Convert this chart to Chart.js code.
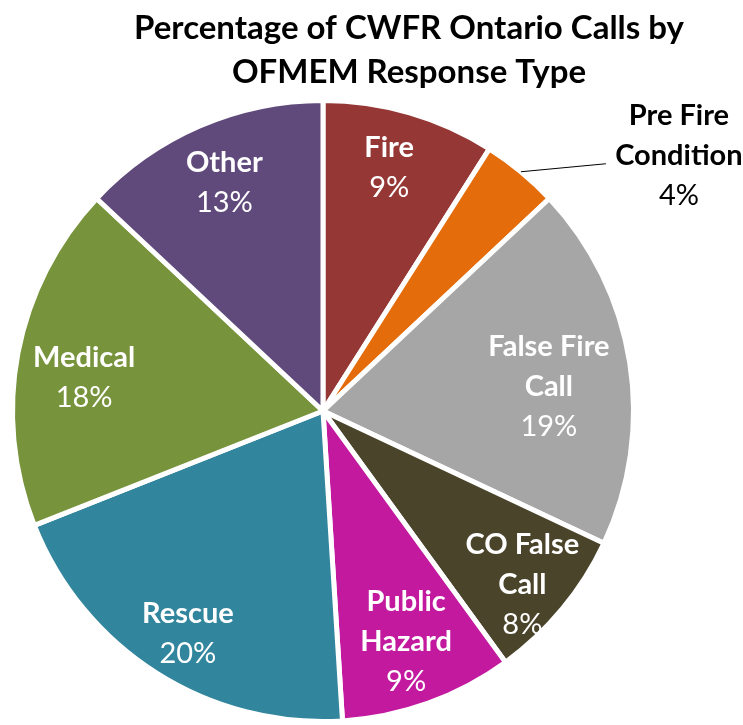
<!DOCTYPE html>
<html>
<head>
<meta charset="utf-8">
<script src="https://cdn.jsdelivr.net/npm/chart.js@4"></script>
<style>
  body { margin: 0; background: #fff; }
  #wrap { width: 743px; height: 725px; }
</style>
</head>
<body>
<div id="wrap"><canvas id="pie-chartcanvas" width="743" height="725"></canvas></div>
<script>
// response types and their share of calls (%)
var categories = ["Fire", "Pre Fire Condition", "False Fire Call", "CO False Call", "Public Hazard", "Rescue", "Medical", "Other"];
var shares = [9, 4, 19, 8, 9, 20, 18, 13];
// how each name is broken over lines on the chart
var labelLines = [["Fire"], ["Pre Fire", "Condition"], ["False Fire", "Call"], ["CO False", "Call"], ["Public", "Hazard"], ["Rescue"], ["Medical"], ["Other"]];
var sliceColors = ["#953735", "#E46C0A", "#A6A6A6", "#4A442A", "#C2199E", "#31859C", "#77933C", "#604A7B"];
var titleLines = ["Percentage of CWFR Ontario Calls by", "OFMEM Response Type"];

var FONT = "Lato, 'Open Sans', sans-serif";

// label block placement: share of the radius along the slice middle, plus a small nudge
var labelRadius = [0.81, 0, 0.73, 0.85, 0.79, 0.83, 0.78, 0.80];
var labelNudge = [[-4, -2], [0, 0], [2, 11], [-4, 5], [0, 0], [3, 5], [-1, 12], [0, 0]];

var titlePlugin = {
	id: "bigTitle",
	afterDraw: function (chart) {
		var ctx = chart.ctx;
		ctx.save();
		ctx.fillStyle = "#000";
		ctx.font = "bold 33px " + FONT;
		ctx.textAlign = "center";
		ctx.textBaseline = "middle";
		ctx.fillText(titleLines[0], 409, 28);
		ctx.fillText(titleLines[1], 409, 72);
		ctx.restore();
	}
};

var sliceLabels = {
	id: "sliceLabels",
	afterDatasetsDraw: function (chart) {
		var ctx = chart.ctx;
		var arcs = chart.getDatasetMeta(0).data;
		var lineGap = 40;
		ctx.save();
		ctx.textAlign = "center";
		ctx.textBaseline = "middle";
		arcs.forEach(function (arc, i) {
			var mid = (arc.startAngle + arc.endAngle) / 2;
			var R = arc.outerRadius;
			var lines = labelLines[i].concat([shares[i] + "%"]);
			var cx, cy, color;
			if (i === 1) {
				// small slice: label outside with a leader line
				var sx = arc.x + Math.cos(mid) * R;
				var sy = arc.y + Math.sin(mid) * R;
				var ex = sx + 85, ey = sy - 8;
				ctx.strokeStyle = "#000";
				ctx.lineWidth = 1;
				ctx.beginPath();
				ctx.moveTo(sx, sy);
				ctx.lineTo(ex, ey);
				ctx.stroke();
				cx = ex + 73;
				cy = ey - 8;
				color = "#000";
			} else {
				var r = R * labelRadius[i];
				cx = arc.x + Math.cos(mid) * r + labelNudge[i][0];
				cy = arc.y + Math.sin(mid) * r + labelNudge[i][1];
				color = "#fff";
			}
			ctx.fillStyle = color;
			var top = cy - (lines.length - 1) * lineGap / 2;
			lines.forEach(function (t, k) {
				var isPct = k === lines.length - 1;
				ctx.font = (isPct ? "" : "bold ") + "29px " + FONT;
				ctx.fillText(t, cx, top + k * lineGap);
			});
		});
		ctx.restore();
	}
};

var ctx1 = document.getElementById("pie-chartcanvas");

var data1 = {
	labels: categories,
	datasets: [
		{
			label: "Share of calls",
			data: shares,
			backgroundColor: sliceColors,
			borderColor: "#fff",
			borderWidth: 5,
			hoverOffset: 0
		}
	]
};

var options1 = {
	responsive: false,
	animation: false,
	layout: {
		padding: { left: 9, right: 106, top: 98, bottom: 1 }
	},
	plugins: {
		legend: { display: false },
		title: { display: false },
		tooltip: { enabled: false }
	}
};

var chart1 = new Chart(ctx1, {
	type: "pie",
	data: data1,
	options: options1,
	plugins: [titlePlugin, sliceLabels]
});
</script>
</body>
</html>
